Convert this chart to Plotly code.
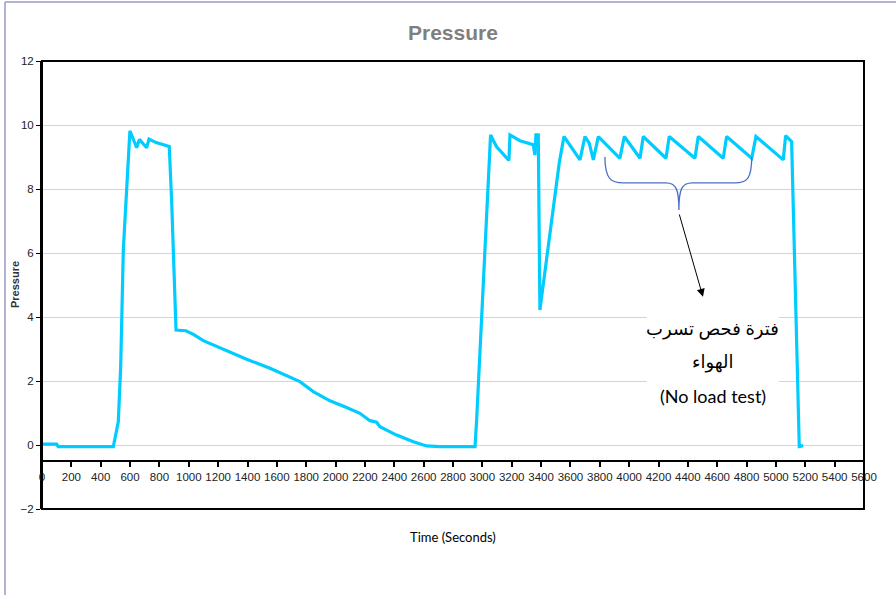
import plotly.graph_objects as go

# pressure log
time_s = [0, 100, 110, 486, 520, 536, 554, 577, 599, 645, 663, 713, 729, 777, 860, 867,
          883, 906, 913, 981, 1031, 1099, 1235, 1394, 1553, 1621, 1735, 1757, 1848, 1962,
          2075, 2166, 2234, 2280, 2302, 2416, 2530, 2620, 2711, 2950, 2961, 3056, 3097,
          3181, 3188, 3256, 3347, 3358, 3365, 3381, 3392, 3517, 3524, 3556, 3665, 3699,
          3728, 3756, 3790, 3937, 3967, 4074, 4096, 4251, 4273, 4448, 4471, 4641, 4664,
          4835, 4864, 5050, 5066, 5107, 5159, 5186]
pressure = [0.03, 0.03, -0.05, -0.05, 0.73, 2.45, 6.1, 8.2, 9.82, 9.29, 9.55, 9.29, 9.56,
            9.45, 9.36, 9.33, 7.66, 4.53, 3.59, 3.57, 3.46, 3.26, 2.99, 2.68, 2.40, 2.26,
            2.03, 1.98, 1.67, 1.38, 1.17, 0.99, 0.76, 0.71, 0.57, 0.31, 0.10, -0.03, -0.05,
            -0.05, 0.78, 9.69, 9.32, 8.89, 9.69, 9.51, 9.38, 9.06, 9.69, 9.69, 4.22, 8.64,
            8.82, 9.64, 8.91, 9.64, 9.43, 8.91, 9.64, 8.96, 9.64, 8.96, 9.64, 8.96, 9.64,
            8.96, 9.64, 8.96, 9.64, 8.96, 9.64, 8.91, 9.67, 9.48, -0.05, -0.02]

x_ticks = list(range(0, 5601, 200))
y_ticks = list(range(-2, 13, 2))

note_lines = ["فترة فحص تسرب", "الهواء", "(No load test)"]

NARROW = "Liberation Sans Narrow, Arial Narrow, Arial, sans-serif"

fig = go.Figure()
fig.add_trace(go.Scatter(
    x=time_s, y=pressure, mode="lines",
    line=dict(color="#00CCFF", width=3.2),
    showlegend=False,
))

fig.update_layout(
    width=896, height=595,
    margin=dict(l=42, r=32, t=61, b=86),
    paper_bgcolor="white", plot_bgcolor="white",
    xaxis=dict(
        range=[0, 5600], tickvals=x_ticks, ticktext=[str(v) for v in x_ticks],
        anchor="free", position=1.5 / 14,
        showline=True, linecolor="black", linewidth=2,
        ticks="outside", ticklen=5, tickcolor="black", tickwidth=1.5,
        showgrid=False, zeroline=False,
        tickfont=dict(family=NARROW, size=11.5, color="#222"),
    ),
    yaxis=dict(
        range=[-2, 12], tickvals=y_ticks, domain=[0, 1],
        showline=True, linecolor="black", linewidth=2,
        ticks="outside", ticklen=4, tickcolor="black",
        showgrid=True, gridcolor="#d4d4d4", gridwidth=1, zeroline=False,
        tickfont=dict(family=NARROW, size=11.5, color="#222"),
    ),
)

def px_x(p):
    return (p - 42) / 822

def px_y(p):
    return (509 - p) / 448

shapes = [
    # chart frame
    dict(type="rect", xref="paper", yref="paper", x0=0, x1=1, y0=0, y1=1,
         line=dict(color="black", width=2), layer="above"),
    # outer chart-area border (top and left)
    dict(type="line", xref="paper", yref="paper", x0=px_x(5), x1=px_x(900),
         y0=px_y(2), y1=px_y(2), line=dict(color="#9a9ac8", width=1.5)),
    dict(type="line", xref="paper", yref="paper", x0=px_x(5), x1=px_x(5),
         y0=px_y(2), y1=px_y(600), line=dict(color="#9a9ac8", width=1.5)),
    # white box behind the note
    dict(type="rect", xref="x", yref="y", x0=4120, x1=5020, y0=1.35, y1=4.2,
         fillcolor="white", line=dict(width=0), layer="between"),
    # curly brace over the no-load cycles
    dict(type="path", xref="x", yref="y",
         path="M 3835 9.0 C 3835 8.3, 3880 8.19, 3960 8.19 L 4250 8.19 "
              "C 4320 8.19, 4339 8.0, 4339 7.34 "
              "C 4339 8.0, 4358 8.19, 4430 8.19 L 4720 8.19 "
              "C 4800 8.19, 4835 8.3, 4835 9.0",
         line=dict(color="#4a6fc4", width=1.3)),
]
fig.update_layout(shapes=shapes)

fig.add_annotation(
    x=4503, y=4.63, ax=4339, ay=7.25, xref="x", yref="y", axref="x", ayref="y",
    text="", showarrow=True, arrowhead=2, arrowsize=1.6, arrowwidth=1,
    arrowcolor="black",
)

for txt, py in zip(note_lines, [328, 361, 396]):
    fig.add_annotation(
        x=4571, y=(445 - py) / 32, xref="x", yref="y", text=txt, showarrow=False,
        xanchor="center", yanchor="middle",
        font=dict(family="Lato, DejaVu Sans, sans-serif", size=18, color="black"),
    )

fig.add_annotation(
    x=px_x(453), y=px_y(32), xref="paper", yref="paper", text="<b>Pressure</b>",
    xanchor="center", yanchor="middle", showarrow=False,
    font=dict(family=NARROW, size=21, color="#7f7f7f"),
)
fig.add_annotation(
    x=px_x(453), y=px_y(537), xref="paper", yref="paper", text="Time (Seconds)",
    xanchor="center", yanchor="middle", showarrow=False,
    font=dict(family="Lato, Open Sans, sans-serif", size=13, color="black"),
)
fig.add_annotation(
    x=px_x(15), y=px_y(285), xref="paper", yref="paper", text="<b>Pressure</b>",
    xanchor="center", yanchor="middle", textangle=-90, showarrow=False,
    font=dict(family="Liberation Sans, Arial, sans-serif", size=11, color="#333"),
)

fig.write_html("out.html", config={"displayModeBar": False},
               post_script="document.body.style.margin='0';")
